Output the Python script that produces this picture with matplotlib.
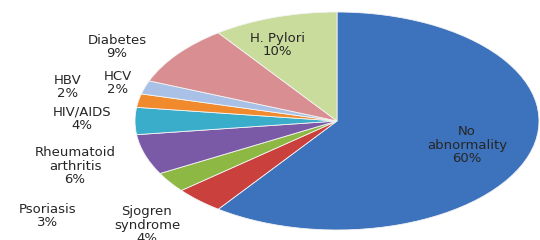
import matplotlib.pyplot as plt

# slices clockwise from 12 o'clock
labels = ["No\nabnormality", "Sjogren\nsyndrome", "Psoriasis", "Rheumatoid\narthritis",
          "HIV/AIDS", "HBV", "HCV", "Diabetes", "H. Pylori"]
percents = [60, 4, 3, 6, 4, 2, 2, 9, 10]
colors = ["#3d72bd", "#c9403c", "#8db843", "#7a5aa6", "#3aadcb",
          "#f08a2c", "#a9c1e6", "#d98e92", "#c9dc9c"]

# label centres in figure pixels (x, y from top)
label_px = [(467, 145), (147, 225), (48, 216), (75, 166), (82, 119),
            (68, 87), (118, 83), (117, 47), (277, 45)]

W, H = 540, 240
fig = plt.figure(figsize=(W / 100, H / 100), dpi=100)
# axes box = bounding box of the squashed pie
ax = fig.add_axes([135 / W, 1 - 230 / H, 404 / W, 218 / H])
ax.pie(percents, colors=colors, startangle=90, counterclock=False,
       wedgeprops=dict(edgecolor="#f4f4f4", linewidth=0.6))
ax.set_aspect("auto")
ax.set_xlim(-1, 1)
ax.set_ylim(-1, 1)
ax.axis("off")

for lab, p, (px, py) in zip(labels, percents, label_px):
    fig.text(px / W, 1 - py / H, f"{lab}\n{p}%", ha="center", va="center",
             fontsize=9.5, color="#262626", linespacing=1.05)

fig.savefig("out.png", dpi=100)
